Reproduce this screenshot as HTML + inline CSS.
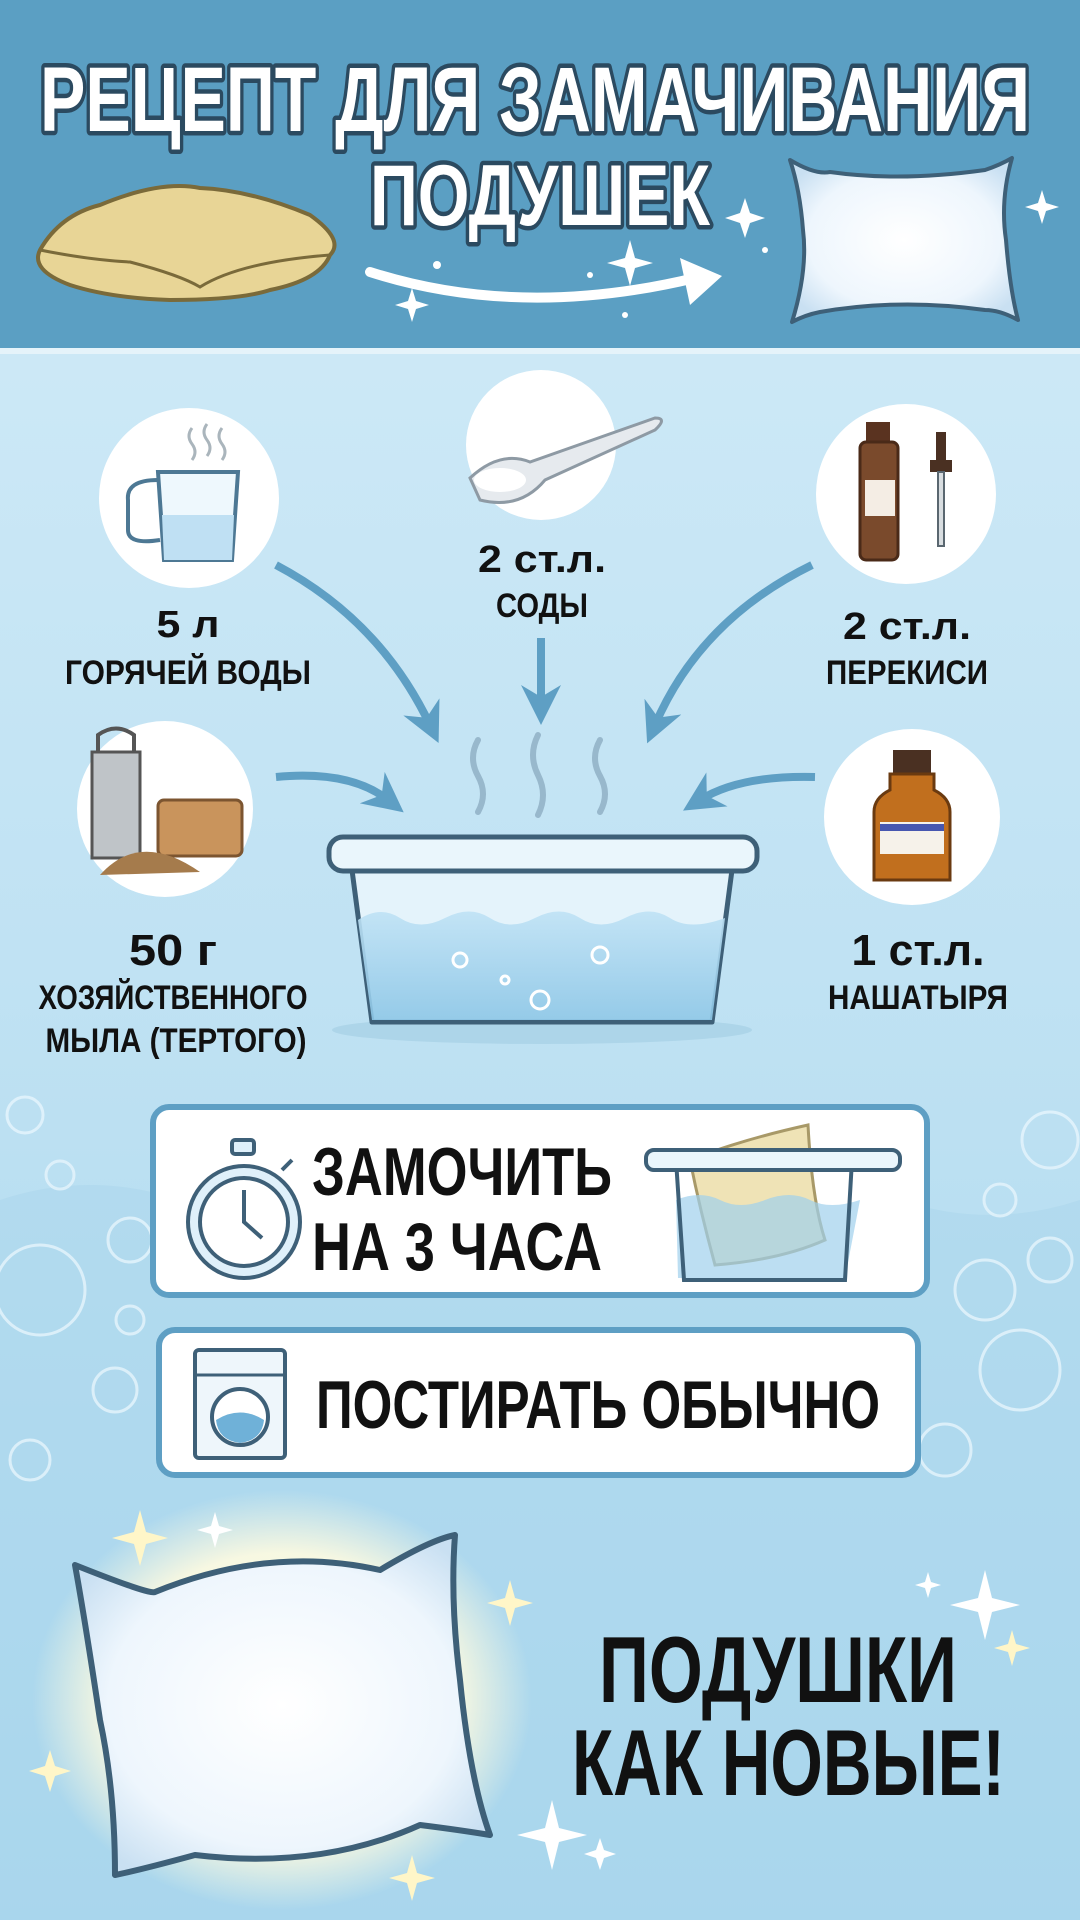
<!DOCTYPE html>
<html><head><meta charset="utf-8"><style>
html,body{margin:0;padding:0;width:1080px;height:1920px;overflow:hidden}
svg{display:block}
text{font-family:"Liberation Sans",sans-serif;font-weight:bold}
</style></head><body>
<svg width="1080" height="1920" viewBox="0 0 1080 1920" xmlns="http://www.w3.org/2000/svg">
<defs>
<linearGradient id="bg" x1="0" y1="0" x2="0" y2="1">
<stop offset="0" stop-color="#d3ecf8"/><stop offset="0.5" stop-color="#c0e2f3"/><stop offset="1" stop-color="#a9d7ee"/>
</linearGradient>
<radialGradient id="pw" cx="0.5" cy="0.5" r="0.6">
<stop offset="0" stop-color="#ffffff"/><stop offset="0.7" stop-color="#eef6fd"/><stop offset="1" stop-color="#c9e0f2"/>
</radialGradient>
<radialGradient id="glow" cx="0.5" cy="0.5" r="0.5">
<stop offset="0.7" stop-color="#fffbe0" stop-opacity="0.9"/><stop offset="1" stop-color="#fffbe0" stop-opacity="0"/>
</radialGradient>
<linearGradient id="water" x1="0" y1="0" x2="0" y2="1">
<stop offset="0" stop-color="#bfe2f5"/><stop offset="1" stop-color="#8cc6e6"/>
</linearGradient>
<marker id="ah" viewBox="0 0 10 10" refX="5" refY="5" markerWidth="5" markerHeight="5" orient="auto">
<path d="M0,0 L10,5 L0,10 L3,5 z" fill="#5e9fc4"/>
</marker>
</defs>
<rect width="1080" height="1920" fill="url(#bg)"/>
<path d="M0,1200 Q90,1170 180,1200 T360,1200 T540,1200 T720,1200 T900,1200 T1080,1200 V1920 H0 Z" fill="#a9d5ec" opacity="0.5"/>
<g fill="none" stroke="#e6f5fc" stroke-width="3" opacity="0.8">
<circle cx="25" cy="1115" r="18"/><circle cx="60" cy="1175" r="14"/><circle cx="40" cy="1290" r="45"/><circle cx="130" cy="1240" r="22"/><circle cx="130" cy="1320" r="14"/><circle cx="115" cy="1390" r="22"/><circle cx="30" cy="1460" r="20"/>
<circle cx="1050" cy="1140" r="28"/><circle cx="1000" cy="1200" r="16"/><circle cx="1050" cy="1260" r="22"/><circle cx="985" cy="1290" r="30"/><circle cx="1020" cy="1370" r="40"/><circle cx="945" cy="1450" r="26"/>
</g>
<rect x="0" y="0" width="1080" height="348" fill="#5b9fc3"/>
<rect x="0" y="348" width="1080" height="6" fill="#e5f3fa"/>
<g text-anchor="start" fill="#ffffff" stroke="#2b4a60" stroke-width="9" paint-order="stroke" stroke-linejoin="round">
<text x="40" y="131" font-size="92" textLength="990" lengthAdjust="spacingAndGlyphs">РЕЦЕПТ ДЛЯ ЗАМАЧИВАНИЯ</text>
<text x="370" y="225" font-size="86" textLength="340" lengthAdjust="spacingAndGlyphs">ПОДУШЕК</text>
</g>
<path d="M40,250 Q60,215 100,205 Q160,180 200,188 Q250,190 310,215 Q345,240 330,255 Q320,280 270,290 Q240,300 170,300 Q110,298 70,285 Q30,270 40,250 Z" fill="#e8d596" stroke="#7a6a3a" stroke-width="4"/>
<path d="M40,250 Q90,260 130,262 Q180,275 200,287 Q240,262 330,255" fill="none" stroke="#7a6a3a" stroke-width="3"/>
<path d="M370,272 Q520,320 695,278" fill="none" stroke="#ffffff" stroke-width="10" stroke-linecap="round"/>
<path d="M680,258 L722,276 L690,305 Z" fill="#ffffff"/>
<g fill="#ffffff">
<path d="M630,240 l5,18 l18,5 l-18,5 l-5,18 l-5,-18 l-18,-5 l18,-5 z"/>
<path d="M412,288 l4,13 l13,4 l-13,4 l-4,13 l-4,-13 l-13,-4 l13,-4 z"/>
<path d="M745,198 l5,15 l15,5 l-15,5 l-5,15 l-5,-15 l-15,-5 l15,-5 z"/>
<path d="M1042,190 l4,13 l13,4 l-13,4 l-4,13 l-4,-13 l-13,-4 l13,-4 z"/>
<circle cx="437" cy="265" r="4"/><circle cx="590" cy="275" r="3"/><circle cx="625" cy="315" r="3"/><circle cx="765" cy="250" r="3"/>
</g>
<path d="M790,160 Q815,175 830,172 Q900,182 985,170 Q1000,165 1012,158 Q1000,200 1006,240 Q1010,290 1018,320 Q1000,310 985,310 Q900,298 820,312 Q805,315 792,322 Q808,270 803,230 Q800,190 790,160 Z" fill="url(#pw)" stroke="#3e6078" stroke-width="4" stroke-linejoin="round"/>
<g fill="#ffffff">
<circle cx="189" cy="498" r="90"/><circle cx="541" cy="445" r="75"/><circle cx="906" cy="494" r="90"/>
<circle cx="165" cy="809" r="88"/><circle cx="912" cy="817" r="88"/>
</g>
<g stroke="#4d7894" stroke-width="4" fill="none">
<path d="M158,472 H238 L232,560 H164 Z" fill="#eef8fd"/>
<path d="M162,515 H234 L232,560 H164 Z" fill="#bfe0f3" stroke="none"/>
<path d="M158,480 Q126,480 128,500 V530 Q128,545 160,540"/>
<path d="M192,428 q-6,8 0,16 q6,8 0,16 M207,424 q-6,8 0,16 q6,8 0,16 M222,428 q-6,8 0,16 q6,8 0,16" stroke="#aab5bc" stroke-width="3"/>
</g>
<path d="M470,478 Q500,450 530,462 L655,418 Q668,418 655,430 L545,480 Q520,510 480,500 Z" fill="#e6eaee" stroke="#8e9aa4" stroke-width="3"/>
<ellipse cx="500" cy="480" rx="26" ry="12" fill="#ffffff"/>
<rect x="866" y="422" width="24" height="20" fill="#5a3320"/>
<rect x="860" y="442" width="38" height="118" rx="6" fill="#7a4a2c" stroke="#4a2a18" stroke-width="3"/>
<rect x="865" y="480" width="30" height="36" fill="#f4ede4"/>
<rect x="936" y="432" width="10" height="30" fill="#4a3022"/><rect x="930" y="460" width="22" height="12" fill="#4a3022"/>
<rect x="938" y="472" width="6" height="74" fill="#d8dde0" stroke="#5a6770" stroke-width="2"/>
<path d="M92,752 H140 V858 H92 Z" fill="#bfc4c8" stroke="#555" stroke-width="3"/>
<path d="M98,752 V735 Q116,722 134,735 V752" fill="none" stroke="#555" stroke-width="4"/>
<rect x="158" y="800" width="84" height="56" rx="6" fill="#c9945c" stroke="#7c5530" stroke-width="3"/>
<path d="M100,875 Q140,830 200,872 Z" fill="#a57b4c"/>
<rect x="893" y="750" width="38" height="24" fill="#4a3022"/>
<path d="M890,774 H934 V790 Q950,798 950,812 V880 H874 V812 Q874,798 890,790 Z" fill="#c16f1e" stroke="#6a3a10" stroke-width="3"/>
<rect x="880" y="822" width="64" height="32" fill="#f6f2ea"/><rect x="880" y="824" width="64" height="7" fill="#4757b0"/>
<g fill="none" stroke="#5e9fc4" stroke-width="8" marker-end="url(#ah)">
<path d="M276,565 Q380,620 430,725"/>
<path d="M541,638 V705"/>
<path d="M812,565 Q700,620 655,725"/>
<path d="M276,777 Q350,770 388,800"/>
<path d="M815,777 Q740,775 700,800"/>
</g>
<g fill="none" stroke="#98b8cc" stroke-width="6" stroke-linecap="round">
<path d="M478,740 q-10,18 0,36 q10,18 0,36"/><path d="M538,735 q-10,20 0,40 q10,20 0,40"/><path d="M600,740 q-10,18 0,36 q10,18 0,36"/>
</g>
<ellipse cx="542" cy="1030" rx="210" ry="14" fill="#9cc9e0" opacity="0.5"/>
<path d="M352,870 H732 L712,1022 H372 Z" fill="#e4f3fb" stroke="#3e6078" stroke-width="5" stroke-linejoin="round"/>
<path d="M358,920 Q380,905 400,918 T445,918 T490,918 T535,918 T580,918 T625,918 T670,918 T725,918 L712,1020 H372 Z" fill="url(#water)" opacity="0.9"/>
<rect x="329" y="837" width="428" height="34" rx="14" fill="#eaf6fc" stroke="#3e6078" stroke-width="5"/>
<g fill="none" stroke="#ffffff" stroke-width="3"><circle cx="460" cy="960" r="7"/><circle cx="600" cy="955" r="8"/><circle cx="540" cy="1000" r="9"/><circle cx="505" cy="980" r="4"/></g>
<g fill="#111" text-anchor="middle">
<text x="188" y="637" font-size="38" textLength="63" lengthAdjust="spacingAndGlyphs">5 л</text>
<text x="188" y="684" font-size="34" textLength="246" lengthAdjust="spacingAndGlyphs">ГОРЯЧЕЙ ВОДЫ</text>
<text x="542" y="572" font-size="38" textLength="128" lengthAdjust="spacingAndGlyphs">2 ст.л.</text>
<text x="542" y="617" font-size="34" textLength="92" lengthAdjust="spacingAndGlyphs">СОДЫ</text>
<text x="907" y="639" font-size="38" textLength="128" lengthAdjust="spacingAndGlyphs">2 ст.л.</text>
<text x="907" y="684" font-size="34" textLength="162" lengthAdjust="spacingAndGlyphs">ПЕРЕКИСИ</text>
<text x="173" y="965" font-size="44" textLength="88" lengthAdjust="spacingAndGlyphs">50 г</text>
<text x="173" y="1009" font-size="34" textLength="269" lengthAdjust="spacingAndGlyphs">ХОЗЯЙСТВЕННОГО</text>
<text x="176" y="1052" font-size="34" textLength="261" lengthAdjust="spacingAndGlyphs">МЫЛА (ТЕРТОГО)</text>
<text x="918" y="965" font-size="44" textLength="133" lengthAdjust="spacingAndGlyphs">1 ст.л.</text>
<text x="918" y="1009" font-size="34" textLength="180" lengthAdjust="spacingAndGlyphs">НАШАТЫРЯ</text>
</g>
<rect x="153" y="1107" width="774" height="188" rx="16" fill="#ffffff" stroke="#5e9fc4" stroke-width="6"/>
<g stroke="#3e6078" stroke-width="4" fill="#dff0fa">
<rect x="232" y="1140" width="22" height="14" rx="3"/>
<circle cx="244" cy="1222" r="56"/>
<circle cx="244" cy="1222" r="44" fill="#ffffff"/>
<path d="M244,1190 V1222 L262,1238" fill="none"/>
<path d="M282,1170 l10,-10" />
</g>
<g fill="#111">
<text x="312" y="1195" font-size="68" textLength="300" lengthAdjust="spacingAndGlyphs">ЗАМОЧИТЬ</text>
<text x="312" y="1270" font-size="68" textLength="290" lengthAdjust="spacingAndGlyphs">НА 3 ЧАСА</text>
</g>
<path d="M690,1160 Q740,1140 808,1125 Q812,1200 825,1240 Q780,1260 715,1265 Q700,1210 690,1160 Z" fill="#efe3b6" stroke="#a89968" stroke-width="3"/>
<path d="M676,1200 Q700,1190 720,1200 T765,1200 T810,1200 T860,1200 L845,1278 H678 Z" fill="#9fd0ec" opacity="0.7"/>
<path d="M676,1160 H852 L845,1280 H684 Z" fill="none" stroke="#3e6078" stroke-width="4"/>
<rect x="646" y="1150" width="254" height="20" rx="8" fill="#eaf6fc" stroke="#3e6078" stroke-width="4"/>
<rect x="159" y="1330" width="759" height="145" rx="16" fill="#ffffff" stroke="#5e9fc4" stroke-width="6"/>
<rect x="195" y="1350" width="90" height="108" rx="4" fill="#eef6fb" stroke="#3e6078" stroke-width="4"/>
<line x1="195" y1="1375" x2="285" y2="1375" stroke="#3e6078" stroke-width="3"/>
<circle cx="240" cy="1417" r="28" fill="#ffffff" stroke="#3e6078" stroke-width="4"/>
<path d="M216,1420 Q240,1405 264,1420 Q262,1440 240,1443 Q218,1440 216,1420 Z" fill="#6fb1d8"/>
<text x="316" y="1428" font-size="68" fill="#111" textLength="564" lengthAdjust="spacingAndGlyphs">ПОСТИРАТЬ ОБЫЧНО</text>
<ellipse cx="282" cy="1700" rx="250" ry="210" fill="url(#glow)"/>
<path d="M75,1565 Q150,1595 155,1592 Q270,1545 380,1570 Q430,1540 455,1535 Q450,1600 460,1680 Q470,1780 490,1835 Q460,1830 420,1825 Q320,1870 195,1855 Q140,1870 115,1875 Q115,1790 100,1720 Q85,1620 75,1565 Z" fill="url(#pw)" stroke="#3e6078" stroke-width="6" stroke-linejoin="round"/>
<g fill="#111">
<text x="599" y="1702" font-size="94" textLength="358" lengthAdjust="spacingAndGlyphs">ПОДУШКИ</text>
<text x="572" y="1795" font-size="94" textLength="433" lengthAdjust="spacingAndGlyphs">КАК НОВЫЕ!</text>
</g>
<g fill="#fff6c8">
<path d="M140,1510 l6,22 l22,6 l-22,6 l-6,22 l-6,-22 l-22,-6 l22,-6 z"/>
<path d="M510,1580 l5,18 l18,5 l-18,5 l-5,18 l-5,-18 l-18,-5 l18,-5 z"/>
<path d="M50,1750 l5,16 l16,5 l-16,5 l-5,16 l-5,-16 l-16,-5 l16,-5 z"/>
<path d="M412,1855 l5,18 l18,5 l-18,5 l-5,18 l-5,-18 l-18,-5 l18,-5 z"/>
<path d="M1012,1630 l4,14 l14,4 l-14,4 l-4,14 l-4,-14 l-14,-4 l14,-4 z"/>
</g>
<g fill="#ffffff">
<path d="M215,1512 l4,14 l14,4 l-14,4 l-4,14 l-4,-14 l-14,-4 l14,-4 z"/>
<path d="M985,1570 l7,28 l28,7 l-28,7 l-7,28 l-7,-28 l-28,-7 l28,-7 z"/>
<path d="M552,1800 l7,28 l28,7 l-28,7 l-7,28 l-7,-28 l-28,-7 l28,-7 z"/>
<path d="M600,1838 l4,12 l12,4 l-12,4 l-4,12 l-4,-12 l-12,-4 l12,-4 z"/>
<path d="M928,1572 l3,10 l10,3 l-10,3 l-3,10 l-3,-10 l-10,-3 l10,-3 z"/>
</g>
</svg>
</body></html>
